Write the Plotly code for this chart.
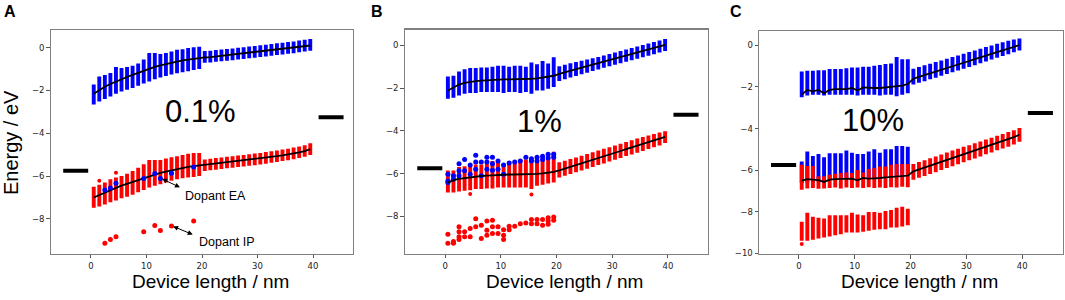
import plotly.graph_objects as go

COLS = [0.5, 1.5, 2.5, 3.5, 4.5, 5.5, 6.5, 7.5, 8.5, 9.5,
        10.5, 11.5, 12.5, 13.5, 14.5, 15.5, 16.5, 17.5, 18.5, 19.5,
        20.5, 21.5, 22.5, 23.5, 24.5, 25.5, 26.5, 27.5, 28.5, 29.5,
        30.5, 31.5, 32.5, 33.5, 34.5, 35.5, 36.5, 37.5, 38.5, 39.5]
DOPED_COLS = COLS[:20]

X_TICKS = [0, 10, 20, 30, 40]
Y_TICKS_AB = [0, -2, -4, -6, -8]
Y_TICKS_C = [0, -2, -4, -6, -8, -10]

ELECTRODE_LEFT_X = [-5.0, -0.5]
ELECTRODE_LEFT_E = -5.75
ELECTRODE_RIGHT_X = [41.0, 45.5]
ELECTRODE_RIGHT_E = -3.25

PANEL_LABELS = ["A", "B", "C"]
CONC_LABELS = ["0.1%", "1%", "10%"]

# ---------------- Panel A (0.1%) ----------------
A_UP_TOP = [-1.72, -1.35, -1.28, -1.18, -0.90, -0.95, -0.90, -0.85, -0.74, -0.56,
            -0.25, -0.25, -0.30, -0.25, -0.18, -0.10, -0.08, -0.02, 0.02, 0.04,
            -0.16, -0.14, -0.11, -0.09, -0.06, -0.04, -0.01, 0.02, 0.05, 0.08,
            0.11, 0.14, 0.17, 0.20, 0.23, 0.26, 0.29, 0.33, 0.37, 0.40]
A_UP_BOT = [-2.66, -2.52, -2.40, -2.28, -2.15, -2.05, -1.97, -1.88, -1.78, -1.68,
            -1.58, -1.48, -1.40, -1.32, -1.26, -1.20, -1.15, -1.10, -1.05, -1.00,
            -0.71, -0.69, -0.66, -0.64, -0.61, -0.59, -0.56, -0.53, -0.50, -0.47,
            -0.44, -0.41, -0.38, -0.35, -0.32, -0.29, -0.26, -0.22, -0.18, -0.15]
A_UP_MEAN = [-2.15, -1.98, -1.83, -1.70, -1.58, -1.47, -1.37, -1.27, -1.17, -1.07,
             -0.98, -0.90, -0.83, -0.76, -0.70, -0.65, -0.60, -0.56, -0.52, -0.49,
             -0.46, -0.44, -0.41, -0.39, -0.36, -0.34, -0.31, -0.28, -0.25, -0.22,
             -0.19, -0.16, -0.13, -0.10, -0.07, -0.04, -0.01, 0.03, 0.07, 0.10]
A_LO_TOP = [-6.50, -6.41, -6.30, -6.15, -6.07, -6.00, -5.89, -5.76, -5.61, -5.45,
            -5.25, -5.25, -5.25, -5.18, -5.12, -5.07, -5.02, -4.96, -4.92, -4.92,
            -5.22, -5.19, -5.16, -5.13, -5.10, -5.07, -5.04, -5.01, -4.98, -4.95,
            -4.92, -4.88, -4.84, -4.80, -4.76, -4.72, -4.67, -4.62, -4.56, -4.47]
A_LO_BOT = [-7.48, -7.42, -7.33, -7.22, -7.14, -7.04, -6.96, -6.87, -6.76, -6.65,
            -6.53, -6.45, -6.38, -6.30, -6.22, -6.15, -6.10, -6.07, -6.04, -6.00,
            -5.76, -5.73, -5.70, -5.67, -5.64, -5.61, -5.58, -5.55, -5.52, -5.49,
            -5.46, -5.42, -5.38, -5.34, -5.30, -5.26, -5.21, -5.16, -5.10, -5.01]
A_LO_MEAN = [-7.00, -6.88, -6.76, -6.65, -6.55, -6.45, -6.36, -6.27, -6.18, -6.09,
             -6.00, -5.92, -5.85, -5.79, -5.73, -5.67, -5.62, -5.57, -5.53, -5.50,
             -5.49, -5.46, -5.43, -5.40, -5.37, -5.34, -5.31, -5.28, -5.25, -5.22,
             -5.19, -5.15, -5.11, -5.07, -5.03, -4.99, -4.94, -4.89, -4.83, -4.74]
A_RED_OUT_X = [1.5, 4.5]
A_RED_OUT_Y = [-6.22, -5.84]
A_EA_X = [2.5, 3.5, 4.5, 9.5, 11.5, 12.5, 14.5, 18.5]
A_EA_Y = [-6.65, -6.56, -6.33, -6.11, -5.88, -6.11, -5.87, -5.58]
A_IP_X = [2.5, 3.5, 4.5, 9.5, 11.5, 12.5, 14.5, 18.5]
A_IP_Y = [-9.14, -8.96, -8.83, -8.60, -8.31, -8.54, -8.33, -8.10]

# ---------------- Panel B (1%) ----------------
B_UP_TOP = [-1.46, -1.42, -1.22, -1.11, -1.06, -1.06, -1.03, -1.03, -1.00, -0.95,
            -0.95, -1.00, -0.95, -0.95, -1.00, -0.80, -0.88, -0.73, -0.85, -0.55,
            -0.98, -0.91, -0.84, -0.78, -0.72, -0.66, -0.60, -0.54, -0.47, -0.40,
            -0.33, -0.26, -0.19, -0.12, -0.05, 0.02, 0.09, 0.16, 0.23, 0.30]
B_UP_BOT = [-2.49, -2.45, -2.34, -2.26, -2.23, -2.23, -2.18, -2.18, -2.18, -2.18,
            -2.23, -2.18, -2.18, -2.23, -2.18, -2.26, -2.11, -2.11, -2.03, -1.95,
            -1.66, -1.58, -1.50, -1.43, -1.35, -1.28, -1.20, -1.13, -1.05, -0.98,
            -0.90, -0.83, -0.76, -0.69, -0.62, -0.55, -0.48, -0.41, -0.33, -0.26]
B_UP_MEAN = [-2.11, -1.95, -1.83, -1.75, -1.70, -1.67, -1.65, -1.63, -1.61, -1.60,
             -1.59, -1.59, -1.59, -1.58, -1.57, -1.56, -1.54, -1.51, -1.47, -1.42,
             -1.33, -1.25, -1.18, -1.11, -1.04, -0.97, -0.90, -0.83, -0.76, -0.69,
             -0.62, -0.55, -0.48, -0.41, -0.34, -0.27, -0.20, -0.13, -0.05, 0.02]
B_LO_TOP = [-5.85, -5.85, -5.69, -5.65, -5.57, -5.57, -5.57, -5.54, -5.41, -5.41,
            -5.54, -5.41, -5.41, -5.34, -5.34, -5.29, -5.29, -5.23, -5.18, -4.98,
            -5.47, -5.40, -5.32, -5.24, -5.16, -5.08, -5.00, -4.92, -4.84, -4.76,
            -4.68, -4.60, -4.52, -4.44, -4.36, -4.29, -4.21, -4.14, -4.07, -4.02]
B_LO_BOT = [-6.88, -6.88, -6.83, -6.80, -6.78, -6.72, -6.72, -6.70, -6.70, -6.65,
            -6.65, -6.65, -6.65, -6.65, -6.65, -6.72, -6.57, -6.52, -6.46, -6.42,
            -6.18, -6.10, -6.02, -5.94, -5.85, -5.77, -5.69, -5.60, -5.52, -5.43,
            -5.35, -5.27, -5.18, -5.10, -5.02, -4.94, -4.85, -4.77, -4.68, -4.57]
B_LO_MEAN = [-6.42, -6.30, -6.24, -6.20, -6.16, -6.13, -6.11, -6.09, -6.07, -6.05,
             -6.04, -6.04, -6.04, -6.04, -6.04, -6.03, -6.01, -5.99, -5.96, -5.92,
             -5.85, -5.77, -5.69, -5.61, -5.52, -5.44, -5.36, -5.27, -5.19, -5.10,
             -5.02, -4.94, -4.85, -4.77, -4.69, -4.61, -4.52, -4.44, -4.36, -4.28]
B_RED_OUT_X = [4.5, 15.5]
B_RED_OUT_Y = [-6.95, -6.98]
B_EA_X = [0.5, 0.5, 0.5, 1.5, 1.5, 2.5, 2.5, 2.5, 3.5, 3.5, 4.5, 4.5, 5.5, 5.5, 5.5,
          6.5, 6.5, 7.5, 7.5, 7.5, 8.5, 8.5, 8.5, 9.5, 9.5, 10.5, 10.5, 11.5, 12.5,
          13.5, 14.5, 15.5, 15.5, 16.5, 16.5, 17.5, 17.5, 18.5, 18.5, 19.5, 19.5]
B_EA_Y = [-6.03, -6.34, -6.41, -6.10, -6.26, -5.54, -5.87, -6.10, -5.34, -5.87, -5.60,
          -6.03, -5.14, -5.45, -5.80, -5.45, -6.10, -5.23, -5.45, -5.80, -5.23, -5.54,
          -5.84, -5.41, -5.80, -5.60, -6.03, -5.50, -5.45, -5.41, -5.23, -5.30, -5.41,
          -5.23, -5.41, -5.19, -5.34, -5.09, -5.27, -5.09, -5.23]
B_IP_X = [0.5, 0.5, 1.5, 1.5, 2.5, 2.5, 2.5, 2.5, 3.5, 3.5, 4.5, 4.5, 5.5, 5.5, 6.5,
          6.5, 7.5, 7.5, 7.5, 8.5, 8.5, 8.5, 9.5, 9.5, 10.5, 10.5, 10.5, 11.5, 11.5,
          12.5, 13.5, 14.5, 15.5, 15.5, 16.5, 16.5, 17.5, 17.5, 18.5, 18.5, 18.5,
          19.5, 19.5]
B_IP_Y = [-8.83, -9.26, -9.18, -9.26, -8.49, -8.72, -8.95, -9.08, -8.72, -8.95, -8.57,
          -8.95, -8.11, -8.49, -8.42, -9.03, -8.22, -8.65, -8.88, -8.18, -8.49, -8.80,
          -8.49, -8.80, -8.62, -8.88, -9.08, -8.46, -8.62, -8.46, -8.34, -8.31, -8.15,
          -8.34, -8.15, -8.34, -8.15, -8.42, -8.06, -8.22, -8.37, -8.03, -8.18]

# ---------------- Panel C (10%) ----------------
C_UP_TOP = [-1.25, -1.22, -1.22, -1.19, -1.19, -1.14, -1.14, -1.14, -1.10, -1.06,
            -1.06, -1.03, -1.03, -0.98, -0.94, -0.90, -0.87, -0.56, -0.67, -0.67,
            -1.12, -1.04, -0.96, -0.88, -0.80, -0.72, -0.64, -0.56, -0.48, -0.40,
            -0.32, -0.24, -0.16, -0.08, 0.00, 0.08, 0.15, 0.22, 0.28, 0.33]
C_UP_BOT = [-2.49, -2.41, -2.37, -2.37, -2.41, -2.37, -2.37, -2.37, -2.37, -2.37,
            -2.41, -2.37, -2.37, -2.37, -2.41, -2.37, -2.37, -2.45, -2.37, -2.30,
            -1.88, -1.80, -1.72, -1.63, -1.55, -1.46, -1.38, -1.29, -1.21, -1.12,
            -1.04, -0.95, -0.86, -0.77, -0.68, -0.59, -0.51, -0.42, -0.33, -0.24]
C_UP_MEAN = [-2.37, -2.14, -2.21, -2.14, -2.30, -2.14, -2.10, -2.10, -2.10, -2.05,
             -2.17, -2.02, -2.05, -2.05, -2.05, -2.02, -1.98, -1.98, -1.94, -1.86,
             -1.60, -1.51, -1.43, -1.34, -1.26, -1.17, -1.09, -1.00, -0.92, -0.83,
             -0.75, -0.66, -0.58, -0.49, -0.41, -0.32, -0.24, -0.15, -0.07, 0.02]
C_LO_TOP = [-5.74, -5.80, -5.80, -6.30, -6.30, -6.22, -6.17, -6.14, -6.11, -6.14,
            -6.00, -6.11, -5.95, -5.90, -5.83, -5.83, -5.74, -5.70, -5.70, -5.70,
            -5.70, -5.61, -5.52, -5.43, -5.34, -5.25, -5.15, -5.06, -4.97, -4.88,
            -4.80, -4.71, -4.62, -4.53, -4.44, -4.35, -4.26, -4.17, -4.08, -3.97]
C_LO_BOT = [-6.94, -6.88, -6.86, -6.90, -6.88, -6.86, -6.84, -6.88, -6.84, -6.86,
            -6.84, -6.86, -6.82, -6.86, -6.84, -6.86, -6.82, -6.84, -6.80, -6.82,
            -6.46, -6.37, -6.28, -6.19, -6.10, -6.00, -5.90, -5.81, -5.72, -5.62,
            -5.53, -5.44, -5.34, -5.24, -5.15, -5.05, -4.96, -4.87, -4.77, -4.63]
C_LO_MEAN = [-6.51, -6.43, -6.46, -6.48, -6.57, -6.46, -6.43, -6.43, -6.43, -6.41,
             -6.49, -6.38, -6.41, -6.41, -6.38, -6.35, -6.33, -6.33, -6.30, -6.27,
             -6.06, -5.97, -5.88, -5.79, -5.70, -5.61, -5.51, -5.42, -5.33, -5.24,
             -5.15, -5.06, -4.97, -4.87, -4.78, -4.69, -4.60, -4.51, -4.41, -4.30]
C_EA_TOP = [-5.59, -5.11, -5.32, -5.22, -5.38, -5.19, -5.19, -5.19, -5.06, -5.16,
            -5.22, -5.22, -5.11, -5.00, -5.16, -5.00, -5.00, -4.84, -4.84, -4.87]
C_EA_BOT = [-6.62, -6.60, -6.58, -6.55, -6.50, -6.45, -6.45, -6.42, -6.40, -6.40,
            -6.42, -6.38, -6.36, -6.35, -6.33, -6.30, -6.28, -6.26, -6.24, -6.22]
C_IP_TOP = [-8.49, -8.05, -8.24, -8.29, -8.33, -8.17, -8.17, -8.17, -8.17, -8.05,
            -8.13, -8.17, -8.02, -8.02, -8.05, -7.97, -7.92, -7.81, -7.76, -7.86]
C_IP_BOT = [-9.40, -9.40, -9.35, -9.29, -9.24, -9.19, -9.13, -9.08, -9.00, -9.00,
            -9.00, -8.97, -8.92, -8.87, -8.84, -8.84, -8.76, -8.76, -8.71, -8.65]
C_RED_OUT_X = [0.5]
C_RED_OUT_Y = [-9.56]

BLUE = "#0000ff"
RED = "#ff0000"
BAR_W = 0.7
FONT = "Liberation Sans, Arial, sans-serif"

fig = go.Figure()


def add_columns(top, bot, xs, color, xa, ya):
    fig.add_trace(go.Bar(
        x=xs, y=[t - b for t, b in zip(top, bot)], base=bot, width=BAR_W,
        marker=dict(color=color, line=dict(width=0)),
        xaxis=xa, yaxis=ya, showlegend=False, hoverinfo="skip"))


def add_dots(xs, ys, color, xa, ya, size=5):
    fig.add_trace(go.Scatter(
        x=xs, y=ys, mode="markers", marker=dict(color=color, size=size),
        xaxis=xa, yaxis=ya, showlegend=False, hoverinfo="skip"))


def add_line(xs, ys, xa, ya, width=1.8):
    fig.add_trace(go.Scatter(
        x=xs, y=ys, mode="lines", line=dict(color="black", width=width),
        xaxis=xa, yaxis=ya, showlegend=False, hoverinfo="skip"))


def add_electrodes(xa, ya):
    add_line(ELECTRODE_LEFT_X, [ELECTRODE_LEFT_E] * 2, xa, ya, width=4)
    add_line(ELECTRODE_RIGHT_X, [ELECTRODE_RIGHT_E] * 2, xa, ya, width=4)


# Panel A
add_columns(A_UP_TOP, A_UP_BOT, COLS, BLUE, "x", "y")
add_columns(A_LO_TOP, A_LO_BOT, COLS, RED, "x", "y")
add_dots(A_RED_OUT_X, A_RED_OUT_Y, RED, "x", "y", 4)
add_line(COLS, A_UP_MEAN, "x", "y")
add_line(COLS, A_LO_MEAN, "x", "y")
add_dots(A_EA_X, A_EA_Y, BLUE, "x", "y")
add_dots(A_IP_X, A_IP_Y, RED, "x", "y")
add_electrodes("x", "y")

# Panel B
add_columns(B_UP_TOP, B_UP_BOT, COLS, BLUE, "x2", "y2")
add_columns(B_LO_TOP, B_LO_BOT, COLS, RED, "x2", "y2")
add_dots(B_RED_OUT_X, B_RED_OUT_Y, RED, "x2", "y2", 4)
add_dots(B_EA_X, B_EA_Y, BLUE, "x2", "y2")
add_line(COLS, B_UP_MEAN, "x2", "y2")
add_line(COLS, B_LO_MEAN, "x2", "y2")
add_dots(B_IP_X, B_IP_Y, RED, "x2", "y2")
add_electrodes("x2", "y2")

# Panel C
add_columns(C_UP_TOP, C_UP_BOT, COLS, BLUE, "x3", "y3")
add_columns(C_EA_TOP, C_EA_BOT, DOPED_COLS, BLUE, "x3", "y3")
add_columns(C_LO_TOP, C_LO_BOT, COLS, RED, "x3", "y3")
add_columns(C_IP_TOP, C_IP_BOT, DOPED_COLS, RED, "x3", "y3")
add_dots(C_RED_OUT_X, C_RED_OUT_Y, RED, "x3", "y3", 4)
add_line(COLS, C_UP_MEAN, "x3", "y3")
add_line(COLS, C_LO_MEAN, "x3", "y3")
add_electrodes("x3", "y3")

W, H = 1065, 300


def px(x):
    return x / W


def py(y):
    return 1 - y / H


axis_common = dict(
    showline=True, mirror=True, linecolor="#808080", linewidth=1.3,
    ticks="outside", ticklen=3.5, tickwidth=1, tickcolor="#555555",
    showgrid=False, zeroline=False,
    tickfont=dict(family="DejaVu Sans", size=8.5, color="#222222"),
)

panels = [
    dict(xd=[51, 353], yd=[30.7, 257], xr=[-7.2, 47.2], yr=[-9.62, 0.81], yt=Y_TICKS_AB),
    dict(xd=[405, 708], yd=[30.0, 257], xr=[-7.2, 47.2], yr=[-9.74, 0.74], yt=Y_TICKS_AB),
    dict(xd=[759.3, 1063], yd=[31.7, 257.3], xr=[-7.1, 47.3], yr=[-10.03, 0.68], yt=Y_TICKS_C),
]

layout = dict(
    width=W, height=H, margin=dict(l=0, r=0, t=0, b=0),
    plot_bgcolor="white", paper_bgcolor="white", barmode="overlay",
    showlegend=False,
)
for i, p in enumerate(panels):
    sfx = "" if i == 0 else str(i + 1)
    layout["xaxis" + sfx] = dict(
        axis_common, domain=[px(p["xd"][0]), px(p["xd"][1])], range=p["xr"],
        tickvals=X_TICKS, anchor="y" + sfx)
    layout["yaxis" + sfx] = dict(
        axis_common, domain=[py(p["yd"][1]), py(p["yd"][0])], range=p["yr"],
        tickvals=p["yt"], anchor="x" + sfx)
fig.update_layout(**layout)

ann = []
# panel letters
for lbl, xc in zip(PANEL_LABELS, [10, 377, 736]):
    ann.append(dict(text="<b>%s</b>" % lbl, x=px(xc), y=py(12), xref="paper", yref="paper",
                    showarrow=False, font=dict(family=FONT, size=16, color="black"),
                    xanchor="center", yanchor="middle"))
# x-axis titles
for xc in [210, 564, 919]:
    ann.append(dict(text="Device length / nm", x=px(xc), y=py(285), xref="paper", yref="paper",
                    showarrow=False, font=dict(family=FONT, size=19, color="black"),
                    xanchor="center", yanchor="middle"))
# y-axis title
ann.append(dict(text="Energy / eV", x=px(11), y=py(145), xref="paper", yref="paper",
                textangle=-90, showarrow=False, font=dict(family=FONT, size=20, color="black"),
                xanchor="center", yanchor="middle"))
# concentration labels
for lbl, (xa, ya, xv, yv) in zip(CONC_LABELS, [("x", "y", 19.8, -3.0),
                                                ("x2", "y2", 16.9, -3.55),
                                                ("x3", "y3", 13.2, -3.6)]):
    ann.append(dict(text=lbl, x=xv, y=yv, xref=xa, yref=ya, showarrow=False,
                    font=dict(family=FONT, size=31, color="black"),
                    xanchor="center", yanchor="middle"))
# dopant annotations (panel A)
ann.append(dict(text="Dopant EA", x=16.6, y=-6.95, xref="x", yref="y", showarrow=False,
                font=dict(family=FONT, size=12.5, color="black"), xanchor="left", yanchor="middle"))
ann.append(dict(text="Dopant IP", x=19.1, y=-9.07, xref="x", yref="y", showarrow=False,
                font=dict(family=FONT, size=12.5, color="black"), xanchor="left", yanchor="middle"))
ann.append(dict(text="", x=12.8, y=-6.13, ax=16.3, ay=-6.56, xref="x", yref="y",
                axref="x", ayref="y", showarrow=True, arrowhead=2, startarrowhead=2,
                arrowside="end+start", arrowsize=1, arrowwidth=1, arrowcolor="black"))
ann.append(dict(text="", x=14.8, y=-8.35, ax=18.6, ay=-8.76, xref="x", yref="y",
                axref="x", ayref="y", showarrow=True, arrowhead=2, startarrowhead=2,
                arrowside="end+start", arrowsize=1, arrowwidth=1, arrowcolor="black"))
fig.update_layout(annotations=ann)

# remove the browser's default 8px body margin so the figure sits at the window origin
fig.write_html("out.html",
               config={"displayModeBar": False, "staticPlot": True},
               post_script="document.body.style.margin='0px';document.body.style.overflow='hidden';")
